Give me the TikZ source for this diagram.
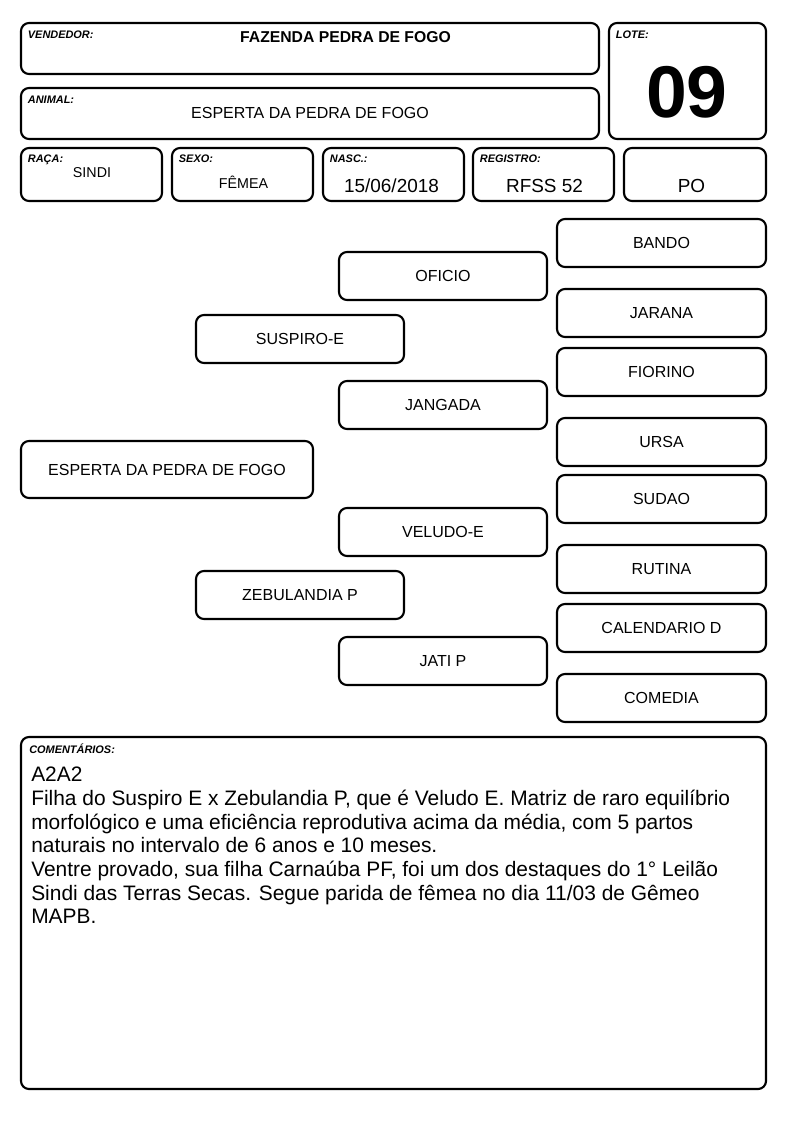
\documentclass[tikz,border=0pt]{standalone}
\usepackage{fontspec}
\setmainfont{Liberation Sans}
\usepackage{tikz}
\tikzstyle{cell} = [rectangle, rounded corners=6pt, draw=black, line width=1.6pt,
    inner sep=0pt, outer sep=0pt]
\tikzstyle{wide} = [cell, minimum width=433.5pt, minimum height=38.25pt]
\tikzstyle{field} = [cell, minimum width=105.75pt, minimum height=39.75pt]
\tikzstyle{anc} = [cell, minimum width=156.75pt, minimum height=36pt,
    text centered, font=\fontsize{12}{14}\selectfont]
\tikzstyle{tag} = [anchor=base west, inner sep=0pt,
    font=\fontsize{8.2}{10}\selectfont\bfseries\itshape]
\tikzstyle{val} = [anchor=base, inner sep=0pt]

\begin{document}
\begin{tikzpicture}[x=0.75pt, y=-0.75pt]
                \useasboundingbox (0,0) rectangle (794,1123);

                % cabecalho
                \node (vendedor) [wide] at (310,48.5) {};
                \node (animal) [wide] at (310,113.5) {};
                \node (lote) [cell, minimum width=117.75pt, minimum height=87pt] at (687.5,81) {};
                \node (raca) [field] at (91.5,174.5) {};
                \node (sexo) [field] at (242.5,174.5) {};
                \node (nasc) [field] at (393.5,174.5) {};
                \node (registro) [field] at (543.5,174.5) {};
                \node (categoria) [field, minimum width=106.5pt] at (695,174.5) {};

                \node (vendtag) [tag] at ([xshift=5pt, yshift=-11.6pt]vendedor.north west) {VENDEDOR:};
                \node (animaltag) [tag] at ([xshift=5pt, yshift=-11.6pt]animal.north west) {ANIMAL:};
                \node (lotetag) [tag] at ([xshift=5pt, yshift=-11.6pt]lote.north west) {LOTE:};
                \node (racatag) [tag] at ([xshift=5pt, yshift=-11pt]raca.north west) {RAÇA:};
                \node (sexotag) [tag] at ([xshift=5pt, yshift=-11pt]sexo.north west) {SEXO:};
                \node (nasctag) [tag] at ([xshift=5pt, yshift=-11pt]nasc.north west) {NASC.:};
                \node (registrotag) [tag] at ([xshift=5pt, yshift=-11pt]registro.north west) {REGISTRO:};

                \node (vendval) [val, font=\fontsize{11.8}{14}\selectfont\bfseries] at (345.5,43) {FAZENDA PEDRA DE FOGO};
                \node (animalval) [val, font=\fontsize{12}{14}\selectfont] at (310,119) {ESPERTA DA PEDRA DE FOGO};
                \node (loteval) [val, font=\fontsize{55}{60}\selectfont\bfseries] at (687,118) {09};
                \node (racaval) [val, font=\fontsize{10.7}{13}\selectfont] at (92,178) {SINDI};
                \node (sexoval) [val, font=\fontsize{10.7}{13}\selectfont] at (243.5,189) {FÊMEA};
                \node (nascval) [val, font=\fontsize{14.2}{17}\selectfont] at (391.5,193) {15/06/2018};
                \node (registroval) [val, font=\fontsize{14.2}{17}\selectfont] at (544.5,193) {RFSS 52};
                \node (categoriaval) [val, font=\fontsize{14.2}{17}\selectfont] at (691.5,193) {PO};

                % genealogia
                \node (esperta) [anc, minimum width=219pt, minimum height=42.75pt] at (167,469.5) {ESPERTA DA PEDRA DE FOGO};
                \node (suspiro) [anc, minimum width=156pt] at (300,339) {SUSPIRO-E};
                \node (zebulandia) [anc, minimum width=156pt] at (300,595) {ZEBULANDIA P};
                \node (oficio) [anc, minimum width=156pt] at (443,276) {OFICIO};
                \node (jangada) [anc, minimum width=156pt] at (443,405) {JANGADA};
                \node (veludo) [anc, minimum width=156pt] at (443,532) {VELUDO-E};
                \node (jati) [anc, minimum width=156pt] at (443,661) {JATI P};
                \node (bando) [anc] at (661.5,243) {BANDO};
                \node (jarana) [anc] at (661.5,313) {JARANA};
                \node (fiorino) [anc] at (661.5,372) {FIORINO};
                \node (ursa) [anc] at (661.5,442) {URSA};
                \node (sudao) [anc] at (661.5,499) {SUDAO};
                \node (rutina) [anc] at (661.5,569) {RUTINA};
                \node (calendario) [anc] at (661.5,628) {CALENDARIO D};
                \node (comedia) [anc] at (661.5,698) {COMEDIA};

                % comentarios
                \node (comentarios) [cell, minimum width=558.75pt, minimum height=264pt] at (393.5,913) {};
                \node (comtag) [tag] at ([xshift=6pt, yshift=-12pt]comentarios.north west) {COMENTÁRIOS:};
                \node (comtexto) [anchor=north west, inner sep=0pt, align=left,
                    font=\fontsize{15.7}{17.8}\selectfont] at (31,766.7)
                    {A2A2\\
                    Filha do Suspiro E x Zebulandia P, que é Veludo E. Matriz de raro equilíbrio\\
                    morfológico e uma eficiência reprodutiva acima da média, com 5 partos\\
                    naturais no intervalo de 6 anos e 10 meses.\\
                    Ventre provado, sua filha Carnaúba PF, foi um dos destaques do 1° Leilão\\
                    Sindi das Terras Secas. Segue parida de fêmea no dia 11/03 de Gêmeo\\
                    MAPB.};
            \end{tikzpicture}
\end{document}
